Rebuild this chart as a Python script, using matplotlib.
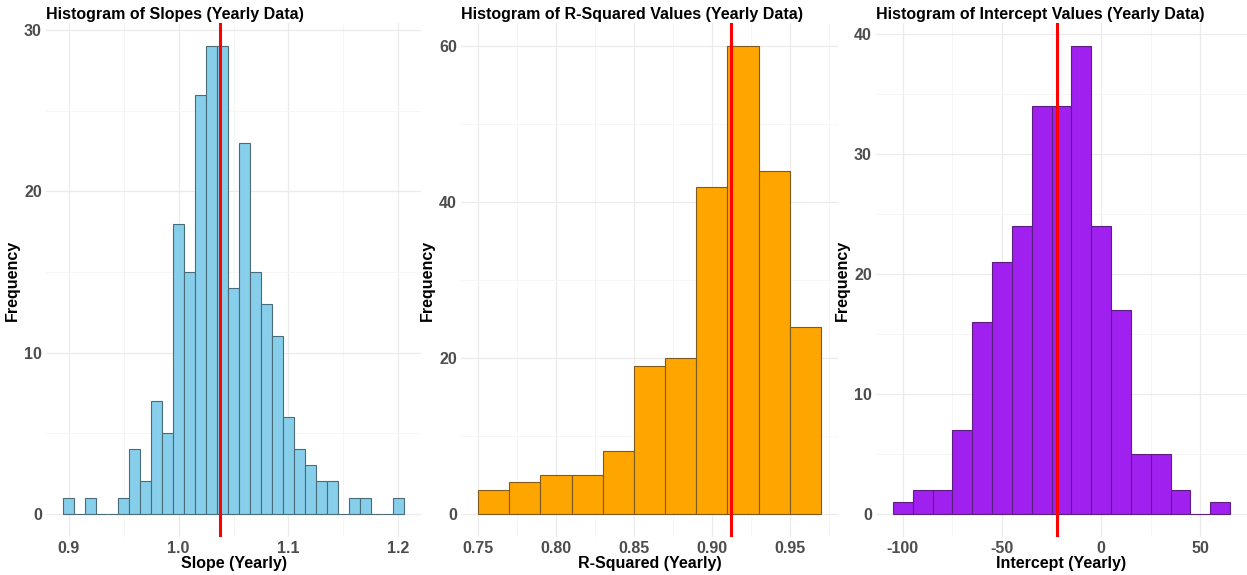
import matplotlib
matplotlib.use("Agg")
import matplotlib.pyplot as plt
from matplotlib.ticker import MultipleLocator

plt.rcParams['font.family'] = ['Liberation Sans', 'DejaVu Sans']
plt.rcParams['font.weight'] = 'bold'

# Slopes: bin centres (width 0.01) and counts
slope_bins = [0.90, 0.91, 0.92, 0.93, 0.94, 0.95, 0.96, 0.97, 0.98, 0.99,
              1.00, 1.01, 1.02, 1.03, 1.04, 1.05, 1.06, 1.07, 1.08, 1.09,
              1.10, 1.11, 1.12, 1.13, 1.14, 1.15, 1.16, 1.17, 1.18, 1.19, 1.20]
slope_counts = [1, 0, 1, 0, 0, 1, 4, 2, 7, 5,
                18, 15, 26, 29, 29, 14, 23, 15, 13, 11,
                6, 4, 3, 2, 2, 0, 1, 1, 0, 0, 1]
slope_mean = 1.038

# R-squared: bin centres (width 0.02) and counts
rsq_bins = [0.76, 0.78, 0.80, 0.82, 0.84, 0.86, 0.88, 0.90, 0.92, 0.94, 0.96]
rsq_counts = [3, 4, 5, 5, 8, 19, 20, 42, 60, 44, 24]
rsq_mean = 0.912

# Intercepts: bin centres (width 10) and counts
int_bins = [-100, -90, -80, -70, -60, -50, -40, -30, -20, -10,
            0, 10, 20, 30, 40, 50, 60]
int_counts = [1, 2, 2, 7, 16, 21, 24, 34, 34, 39,
              24, 17, 5, 5, 2, 0, 1]
int_mean = -22.3

W, H = 1247, 575
fig = plt.figure(figsize=(W / 100, H / 100), dpi=100)

panels = [
    dict(bins=slope_bins, counts=slope_counts, width=0.01, mean=slope_mean,
         fill='#87CEEB', edge='#4a6b78', left=46, right=421,
         xmajor=0.1, ymajor=10, xfmt='{:.1f}',
         title='Histogram of Slopes (Yearly Data)', xlabel='Slope (Yearly)'),
    dict(bins=rsq_bins, counts=rsq_counts, width=0.02, mean=rsq_mean,
         fill='#FFA500', edge='#7d5b1e', left=461, right=838,
         xmajor=0.05, ymajor=20, xfmt='{:.2f}',
         title='Histogram of R-Squared Values (Yearly Data)', xlabel='R-Squared (Yearly)'),
    dict(bins=int_bins, counts=int_counts, width=10, mean=int_mean,
         fill='#A020F0', edge='#5b1f80', left=876, right=1247,
         xmajor=50, ymajor=10, xfmt='{:.0f}',
         title='Histogram of Intercept Values (Yearly Data)', xlabel='Intercept (Yearly)'),
]

top, bottom = 23, 537
for p in panels:
    ax = fig.add_axes([p['left'] / W, (H - bottom) / H,
                       (p['right'] - p['left']) / W, (bottom - top) / H])
    ax.bar(p['bins'], p['counts'], width=p['width'], color=p['fill'],
           edgecolor=p['edge'], linewidth=0.8, zorder=2)
    ax.axvline(p['mean'], color='#FF0000', linewidth=2.2, zorder=3)

    # ggplot-like 5% expansion
    lo = p['bins'][0] - p['width'] / 2
    hi = p['bins'][-1] + p['width'] / 2
    ex = (hi - lo) * 0.05
    ax.set_xlim(lo - ex, hi + ex)
    ymax = max(p['counts'])
    ax.set_ylim(-ymax * 0.05, ymax * 1.05)

    ax.xaxis.set_major_locator(MultipleLocator(p['xmajor']))
    ax.xaxis.set_minor_locator(MultipleLocator(p['xmajor'] / 2))
    ax.yaxis.set_major_locator(MultipleLocator(p['ymajor']))
    ax.yaxis.set_minor_locator(MultipleLocator(p['ymajor'] / 2))
    ax.grid(True, which='major', color='#EBEBEB', linewidth=0.9, zorder=0)
    ax.grid(True, which='minor', color='#F5F5F5', linewidth=0.6, zorder=0)
    ax.set_axisbelow(True)
    for s in ax.spines.values():
        s.set_visible(False)
    ax.tick_params(which='both', length=0, labelsize=11.5, labelcolor='#4D4D4D', pad=3)
    ax.xaxis.set_major_formatter(matplotlib.ticker.FuncFormatter(
        lambda v, pos, f=p['xfmt']: f.format(v)))

    ax.set_title(p['title'], loc='left', fontsize=11.5, fontweight='bold', pad=3)
    ax.set_xlabel(p['xlabel'], fontsize=11.5, fontweight='bold', labelpad=0)
    ax.set_ylabel('Frequency', fontsize=11.5, fontweight='bold', labelpad=3)

fig.savefig('out.png', dpi=100, facecolor='white')
